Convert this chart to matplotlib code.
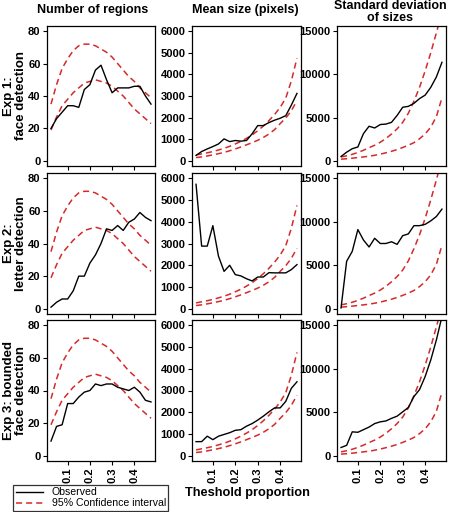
import numpy as np
import matplotlib as mpl
import matplotlib.pyplot as plt
from matplotlib.lines import Line2D

mpl.rcParams['font.family'] = 'Liberation Sans'
mpl.rcParams['font.weight'] = 'bold'
mpl.rcParams['xtick.major.size'] = 2.6
mpl.rcParams['ytick.major.size'] = 2.6
mpl.rcParams['xtick.major.width'] = 0.8
mpl.rcParams['ytick.major.width'] = 0.8

# threshold proportions (x axis)
threshold = [0.025, 0.05, 0.075, 0.1, 0.125, 0.15, 0.175, 0.2, 0.225, 0.25,
             0.275, 0.3, 0.325, 0.35, 0.375, 0.4, 0.425, 0.45, 0.475]

# observed values, one list per experiment and measure
exp1_regions = [20, 26, 30, 34, 34, 33, 44, 47, 56, 59, 50, 42, 45, 45, 45, 46, 46, 40, 35]
exp2_regions = [1, 4, 6, 6, 11, 20, 20, 28, 33, 40, 49, 48, 51, 48, 53, 55, 59, 56, 54]
exp3_regions = [9, 18, 19, 32, 32, 36, 39, 40, 44, 43, 44, 44, 42, 41, 40, 42, 39, 34, 33]

exp1_mean = [250, 430, 550, 660, 780, 1015, 890, 940, 910, 940, 1250, 1630, 1630, 1770,
             1880, 1970, 2090, 2580, 3120]
exp2_mean = [5720, 2880, 2880, 3820, 2420, 1720, 2000, 1570, 1510, 1380, 1280, 1460, 1460,
             1660, 1650, 1650, 1650, 1800, 2030]
exp3_mean = [650, 650, 900, 740, 900, 980, 1060, 1170, 1200, 1360, 1480, 1640, 1820, 2020,
             2200, 2200, 2500, 3100, 3400]

exp1_sd = [500, 1000, 1400, 1600, 3150, 4000, 3800, 4200, 4250, 4450, 5250, 6200, 6300,
           6650, 7200, 7600, 8500, 9700, 11400]
exp2_sd = [100, 5460, 6600, 9100, 7900, 7100, 8100, 7500, 7500, 7700, 7400, 8400, 8600,
           9550, 9550, 9700, 10100, 10600, 11450]
exp3_sd = [950, 1200, 2750, 2700, 3000, 3300, 3700, 3900, 4000, 4300, 4550, 5050, 5550,
           6800, 7600, 9100, 11000, 13300, 16000]

# 95% confidence interval bounds (same for each experiment)
ci_regions_hi = [35, 47, 57, 63, 68, 71, 72, 72, 71, 69, 67, 64, 60, 56, 52, 49, 45, 42, 39]
ci_regions_lo = [19, 27, 34, 38, 42, 45, 48, 49, 50, 49, 48, 46, 43, 40, 36, 32, 29, 26, 23]
ci_mean_hi = [270, 320, 370, 430, 500, 580, 670, 780, 900, 1040, 1200, 1390, 1610, 1860,
              2140, 2470, 2900, 3700, 4750]
ci_mean_lo = [150, 180, 225, 275, 330, 390, 465, 550, 640, 740, 840, 950, 1080, 1240,
              1440, 1720, 1980, 2320, 2780]
ci_sd_hi = [450, 580, 750, 960, 1220, 1520, 1800, 2150, 2580, 3100, 3700, 4450, 5500, 6900,
            8500, 10400, 12500, 14800, 17200]
ci_sd_lo = [190, 240, 300, 380, 450, 530, 640, 770, 930, 1100, 1300, 1540, 1800, 2100,
            2550, 3100, 3900, 5100, 7300]

col_titles = ['Number of regions', 'Mean size (pixels)', 'Standard deviation\nof sizes']
row_labels = ['Exp 1:\nface detection', 'Exp 2:\nletter detection', 'Exp 3: bounded\nface detection']

observed = [[exp1_regions, exp1_mean, exp1_sd],
            [exp2_regions, exp2_mean, exp2_sd],
            [exp3_regions, exp3_mean, exp3_sd]]
ci = [(ci_regions_lo, ci_regions_hi), (ci_mean_lo, ci_mean_hi), (ci_sd_lo, ci_sd_hi)]
yticks = [[0, 20, 40, 60, 80], [0, 1000, 2000, 3000, 4000, 5000, 6000], [0, 5000, 10000, 15000]]
ylims = [(-3.2, 83.2), (-240, 6240), (-600, 15600)]

W, H = 450, 512
fig = plt.figure(figsize=(W / 100, H / 100), dpi=100)

col_x = [(47, 155), (192, 301), (337, 446)]
row_y = [(26, 166), (173, 314), (320, 461)]
red = '#d42a2a'

def px_box(x0, x1, y0, y1):
    return [x0 / W, 1 - y1 / H, (x1 - x0) / W, (y1 - y0) / H]

for r in range(3):
    for c in range(3):
        ax = fig.add_axes(px_box(col_x[c][0], col_x[c][1], row_y[r][0], row_y[r][1]))
        lo, hi = ci[c]
        ax.plot(threshold, hi, color=red, lw=1.1, dashes=(4, 2.6))
        ax.plot(threshold, lo, color=red, lw=1.1, dashes=(4, 2.6))
        ax.plot(threshold, observed[r][c], color='black', lw=1.0)
        ax.set_xlim(0.007, 0.493)
        ax.set_ylim(*ylims[c])
        ax.set_yticks(yticks[c])
        ax.set_xticks([0.1, 0.2, 0.3, 0.4])
        ax.tick_params(labelsize=8, pad=2)
        for lab in ax.get_yticklabels():
            lab.set_fontweight('bold')
        if r == 2:
            ax.set_xticklabels(['0.1', '0.2', '0.3', '0.4'], rotation=90, fontweight='bold')
        else:
            ax.set_xticklabels([])
        for s in ax.spines.values():
            s.set_linewidth(0.9)

# column titles
title_x = [93, 245, 390]
for c in range(3):
    y = 10 if c < 2 else 12
    fig.text(title_x[c] / W, 1 - y / H, col_titles[c], ha='center', va='center',
             fontsize=9, fontweight='bold', linespacing=0.9)

# row labels
for r in range(3):
    yc = (row_y[r][0] + row_y[r][1]) / 2
    fig.text(15 / W, 1 - yc / H, row_labels[r], ha='center', va='center', rotation=90,
             fontsize=9.5, fontweight='bold', linespacing=0.9)

fig.text(247 / W, 1 - 493 / H, 'Theshold proportion', ha='center', va='center',
         fontsize=9.2, fontweight='bold')

handles = [Line2D([], [], color='black', lw=1.0),
           Line2D([], [], color=red, lw=1.1, dashes=(4, 2.6))]
leg = fig.legend(handles, ['Observed', '95% Confidence interval'], loc='lower left',
                 bbox_to_anchor=(13 / W, 1 / H), frameon=True, fancybox=False,
                 prop={'size': 7.6, 'weight': 'normal'}, handlelength=2.6,
                 borderpad=0.25, labelspacing=0.1, handletextpad=0.8, borderaxespad=0)
leg.get_frame().set_edgecolor('black')
leg.get_frame().set_linewidth(0.9)

plt.savefig('out.png', dpi=100)
